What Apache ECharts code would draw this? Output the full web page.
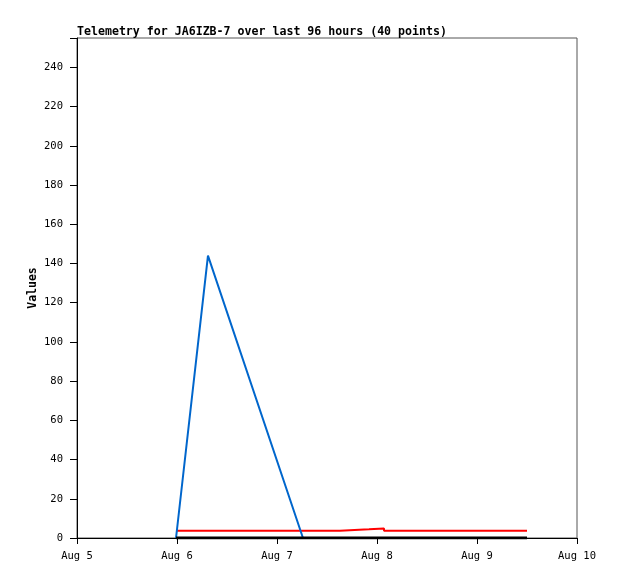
<!DOCTYPE html>
<html><head><meta charset="utf-8">
<script src="https://cdn.jsdelivr.net/npm/echarts@6/dist/echarts.min.js"></script>
<style>html,body{margin:0;padding:0;background:#fff}#c{width:618px;height:579px}</style>
</head><body><div id="c"></div>
<script>
// times as [day of August, hour, minute]
var blueTimes = [[5,23,46],[6,7,26],[7,6,14],[9,12,0]];
var blueValues = [0,144,0,0];
var redTimes = [[5,23,46],[7,15,7],[7,22,5],[8,1,41],[9,12,0]];
var redValues = [3.7,4.4,4.9,3.7,3.7];
var blackTimes = [[5,23,46],[9,12,0]];
var blackValues = [0,0];
var yTicks = [0,20,40,60,80,100,120,140,160,180,200,220,240];

function ts(t){ return new Date(2023,7,t[0],t[1],t[2]).getTime(); }
function pts(times, vals){ return times.map(function(t,i){ return [ts(t), vals[i]]; }); }

var chart = echarts.init(document.getElementById('c'), null, {renderer:'canvas'});
var mono = 'DejaVu Sans Mono';
chart.setOption({
  animation:false,
  backgroundColor:'#fff',
  title:{text:'Telemetry for JA6IZB-7 over last 96 hours (40 points)', left:77, top:26, padding:0,
    textStyle:{fontFamily:mono, fontSize:11.6, fontWeight:'bold', color:'#000'}},
  grid:{left:77, top:38, right:41, bottom:41, show:true, borderColor:'#555', borderWidth:1},
  xAxis:{type:'time', min:ts([5,0,0]), max:ts([10,0,0]), interval:86400000,
    axisLine:{lineStyle:{color:'#000', width:1}},
    axisTick:{show:true, length:6, lineStyle:{color:'#000'}},
    splitLine:{show:false},
    axisLabel:{fontFamily:mono, fontSize:10.5, color:'#000', margin:13, showMaxLabel:true, showMinLabel:true, hideOverlap:false,
      formatter:function(v){ var d=new Date(v); return 'Aug '+d.getDate(); }}},
  yAxis:{type:'value', min:0, max:255, interval:20, name:'Values', nameLocation:'middle', nameGap:38, nameMoveOverlap:false,
    nameTextStyle:{fontFamily:mono, fontSize:11.5, fontWeight:'bold', color:'#000'},
    axisLine:{show:true, lineStyle:{color:'#000'}},
    axisTick:{show:true, length:7, lineStyle:{color:'#000'}},
    splitLine:{show:false},
    axisLabel:{fontFamily:mono, fontSize:10.5, color:'#000', margin:14,
      formatter:function(v){ return yTicks.indexOf(v)>=0 ? String(v) : ''; }}},
  series:[
    {type:'line', data:pts(redTimes, redValues), step:'end', showSymbol:false, lineStyle:{color:'#ff0000', width:2}},
    {type:'line', data:pts(blueTimes, blueValues), showSymbol:false, lineStyle:{color:'#0066cc', width:2}},
    {type:'line', data:pts(blackTimes, blackValues), showSymbol:false, lineStyle:{color:'#000', width:3}}
  ]
});
</script></body></html>
